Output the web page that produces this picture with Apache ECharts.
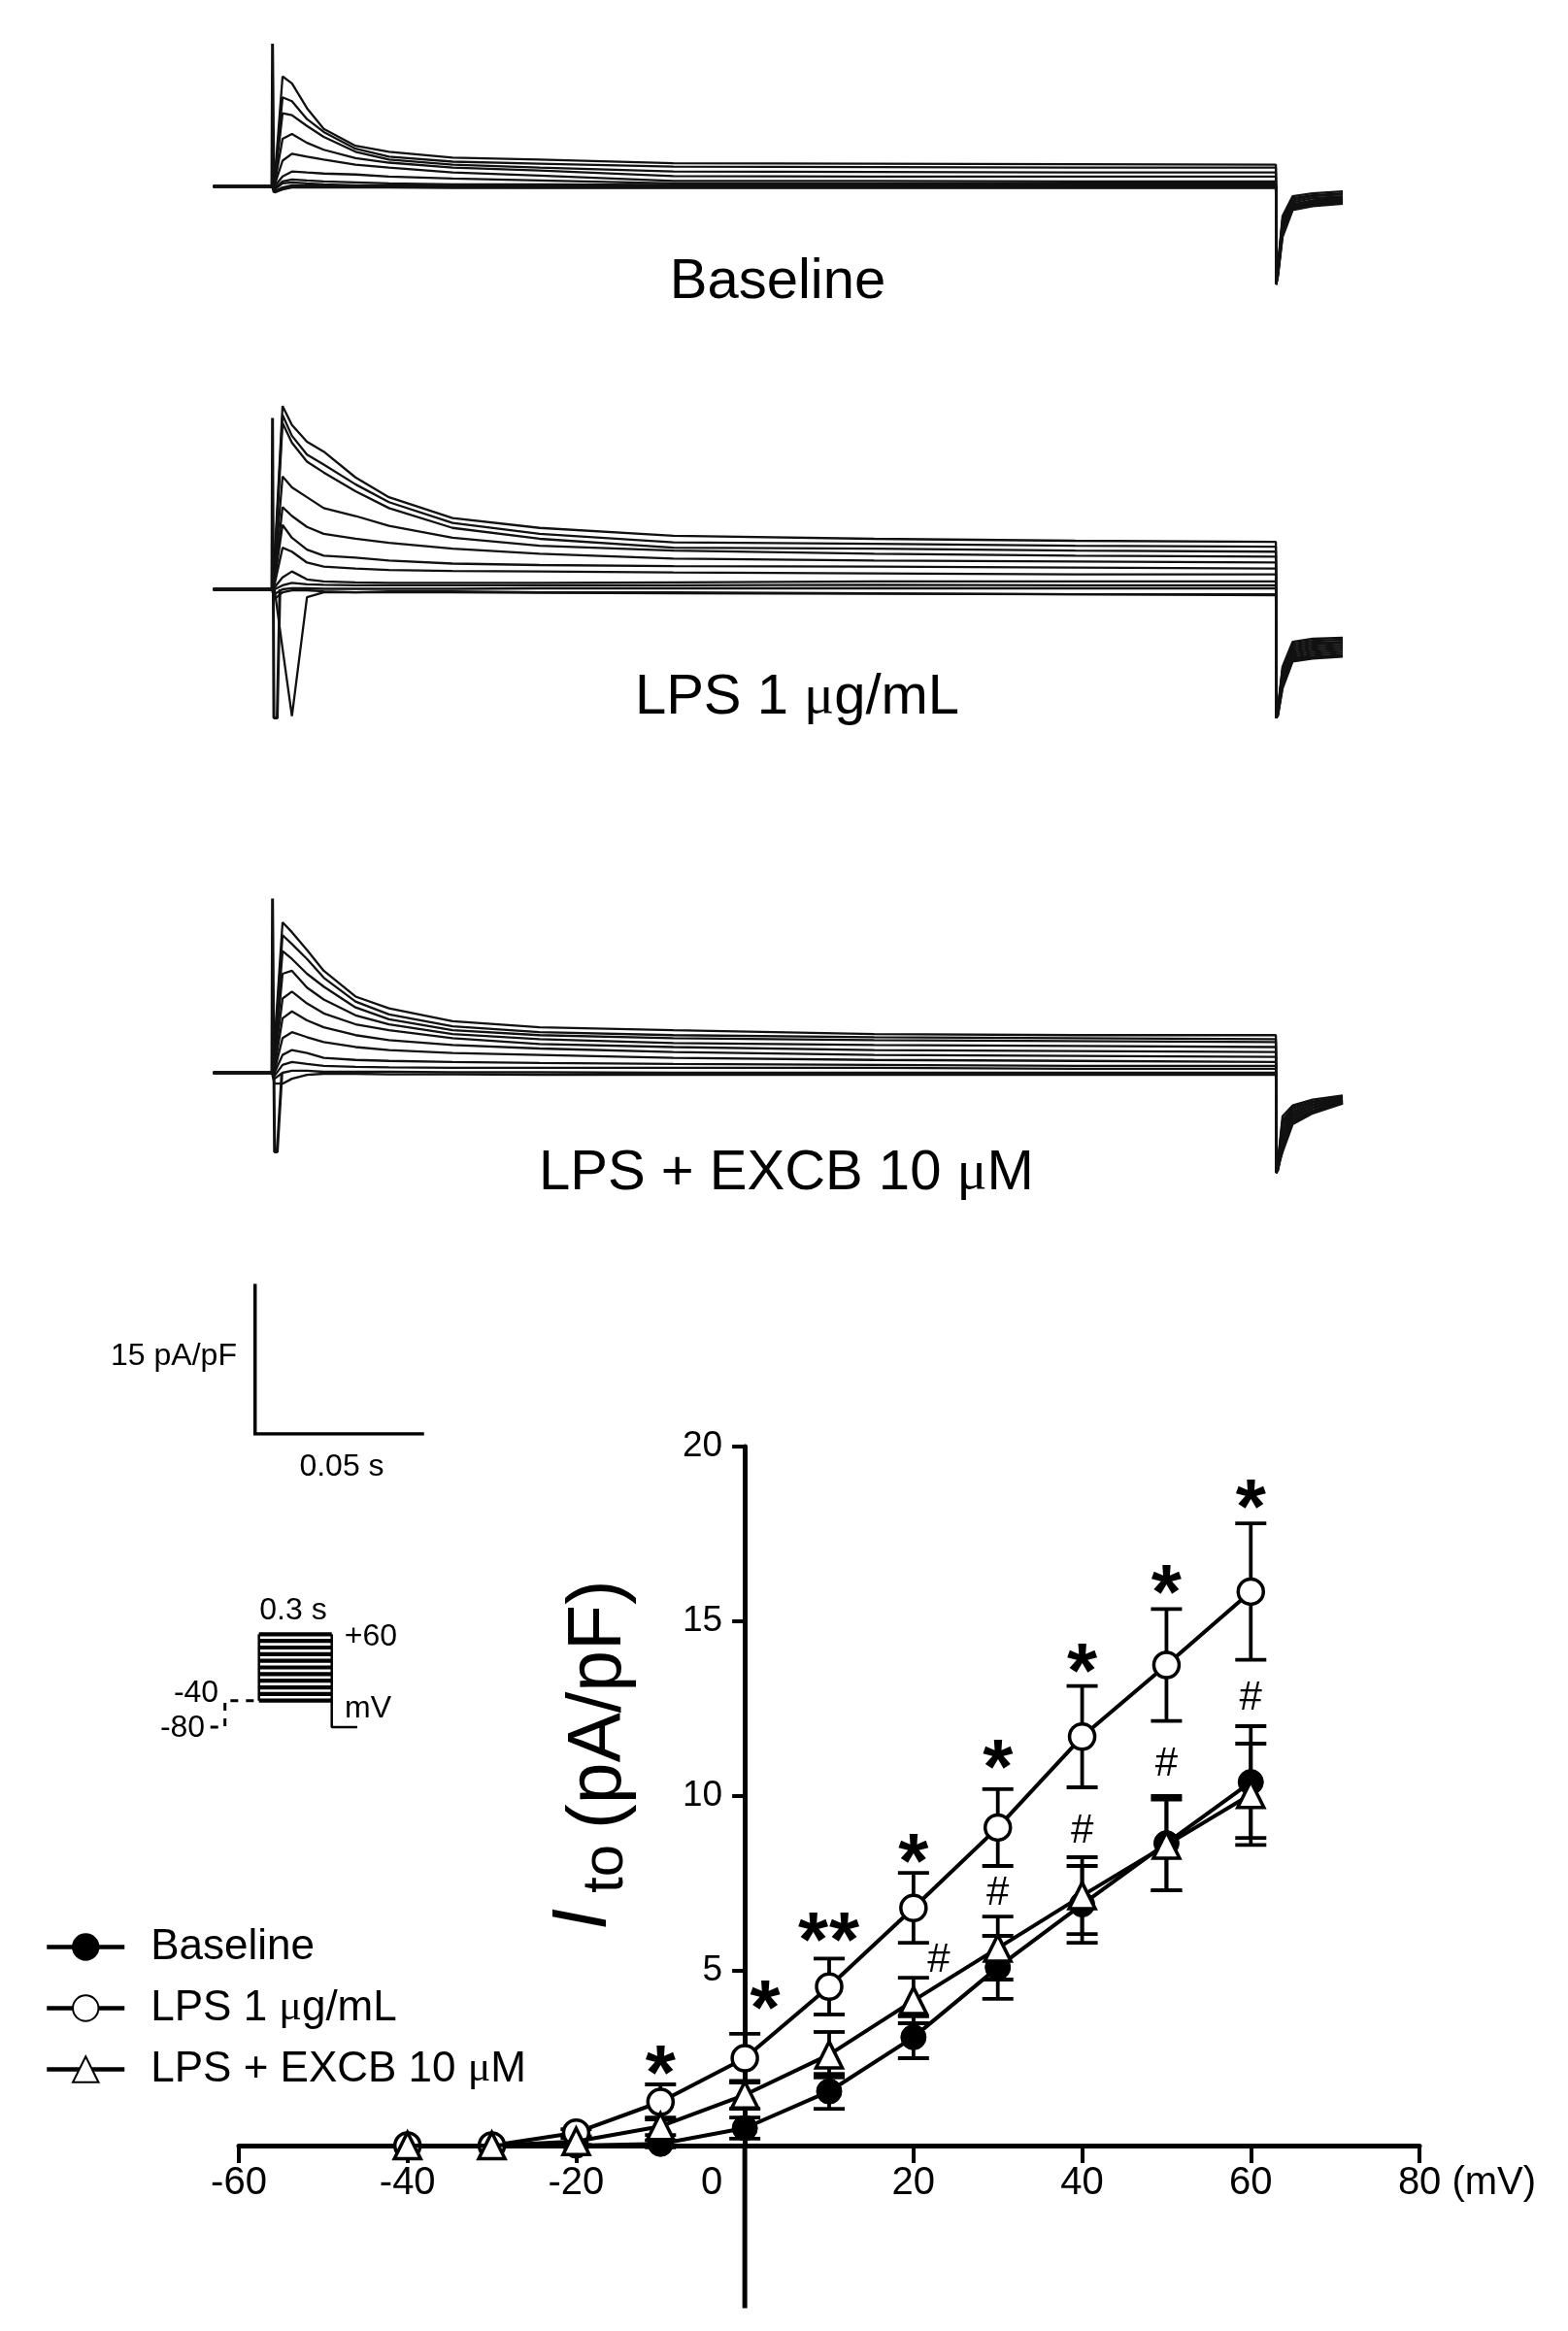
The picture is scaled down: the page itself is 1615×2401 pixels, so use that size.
<!DOCTYPE html>
<html>
<head>
<meta charset="utf-8">
<script src="https://cdn.jsdelivr.net/npm/echarts@6/dist/echarts.min.js"></script>
<style>
  html, body { margin: 0; padding: 0; background: #fff; }
  #chart { width: 1615px; height: 2401px; }
</style>
</head>
<body>
<div id="chart"></div>
<script>
  // ---- current traces (time in s, current in pA/pF) ----
  const stepTimes = [0.0008, 0.0032, 0.006, 0.0105, 0.0155, 0.025, 0.035, 0.054, 0.08, 0.12, 0.18, 0.24, 0.3];
  const tailTimes = [0.3001, 0.3006, 0.302, 0.305, 0.311, 0.32];

  const baselineSteps = [
    [0.5, 11.1, 10.4, 7.9, 5.8, 4.1, 3.5, 2.9, 2.7, 2.35, 2.3, 2.25, 2.2],
    [0.4, 9.0, 8.6, 6.8, 5.5, 3.8, 3.0, 2.5, 2.3, 2.0, 1.95, 1.9, 1.9],
    [0.3, 7.4, 7.2, 6.1, 5.0, 3.5, 2.7, 2.2, 1.9, 1.5, 1.45, 1.4, 1.4],
    [0.2, 4.8, 5.3, 4.4, 3.7, 2.85, 2.4, 1.9, 1.6, 1.05, 1.0, 1.0, 1.0],
    [0.1, 2.6, 3.3, 3.0, 2.7, 2.2, 1.9, 1.4, 1.1, 0.55, 0.55, 0.5, 0.5],
    [0, 1.0, 1.5, 1.4, 1.3, 1.2, 1.0, 0.8, 0.6, 0.3, 0.3, 0.3, 0.3],
    [-0.2, 0.5, 0.7, 0.6, 0.5, 0.4, 0.3, 0.2, 0.2, 0.15, 0.15, 0.1, 0.1],
    [-0.3, 0.3, 0.4, 0.3, 0.2, 0.1, 0.1, 0.05, 0.05, 0.05, 0, 0, 0],
    [-0.5, -0.1, 0.1, 0.1, 0.05, 0, 0, 0, 0, 0, 0, 0, 0],
    [-0.6, -0.2, 0, 0, 0, -0.05, -0.05, -0.05, -0.1, -0.1, -0.1, -0.1, -0.1],
    [-0.6, -0.3, -0.1, -0.1, -0.1, -0.1, -0.1, -0.15, -0.15, -0.15, -0.15, -0.15, -0.15]
  ];
  const baselineTails = [
    [-9.9, -8.0, -3.0, -1.0, -0.7, -0.5],
    [-9.9, -8.2, -3.3, -1.2, -0.9, -0.7],
    [-9.9, -8.3, -3.5, -1.4, -1.0, -0.8],
    [-9.9, -8.4, -3.7, -1.6, -1.2, -1.0],
    [-9.9, -8.5, -3.9, -1.8, -1.4, -1.1],
    [-9.9, -8.6, -4.1, -1.9, -1.5, -1.2],
    [-9.9, -8.7, -4.3, -2.0, -1.6, -1.3],
    [-9.9, -8.8, -4.5, -2.1, -1.7, -1.4],
    [-9.9, -8.9, -4.7, -2.2, -1.8, -1.5],
    [-9.9, -9.0, -4.9, -2.3, -1.9, -1.6],
    [-9.9, -9.1, -5.1, -2.4, -2.0, -1.75]
  ];
  const baselineSpike = [[0, 0], [0.0002, 14.4], [0.0006, -0.6], [0.0012, 0.3]];

  const lpsSteps = [
    [3, 18.5, 16.6, 14.9, 13.9, 11.3, 9.3, 7.2, 6.2, 5.4, 5.1, 4.9, 4.8],
    [2.5, 17.6, 15.5, 13.6, 12.6, 10.6, 8.8, 6.7, 5.6, 4.75, 4.6, 4.4, 4.3],
    [2, 16.8, 14.8, 12.9, 11.8, 9.9, 8.2, 6.2, 5.1, 4.2, 4.1, 3.9, 3.8],
    [1.5, 11.4, 10.3, 9.3, 8.2, 7.4, 6.4, 5.2, 4.4, 3.9, 3.6, 3.4, 3.3],
    [1, 8.3, 7.4, 6.3, 5.6, 5.1, 4.7, 4.1, 3.6, 3.1, 2.9, 2.8, 2.7],
    [0.8, 6.5, 5.2, 4.0, 3.4, 3.2, 2.9, 2.6, 2.45, 2.35, 2.3, 2.2, 2.1],
    [0.5, 4.2, 3.8, 2.7, 2.3, 2.1, 1.95, 1.85, 1.8, 1.7, 1.6, 1.5, 1.5],
    [0.2, 1.2, 1.8, 1.0, 0.8, 0.7, 0.65, 0.65, 0.65, 0.7, 0.8, 0.8, 0.8],
    [0, 0.4, 0.65, 0.5, 0.45, 0.4, 0.4, 0.4, 0.4, 0.4, 0.45, 0.4, 0.4],
    [-0.5, 0, 0.1, 0.1, 0.05, 0.05, 0.05, 0.05, 0.1, 0.1, 0.1, 0.1, 0.1],
    [-1, -0.3, -0.1, -0.1, -0.2, -0.3, -0.3, -0.3, -0.35, -0.4, -0.45, -0.5, -0.5],
    [0, -6, -12.8, -0.8, -0.3, -0.3, -0.2, -0.2, -0.3, -0.3, -0.4, -0.5, -0.6]
  ];
  const lpsTails = [
    [-13, -12.0, -7.8, -5.3, -5.0, -4.9],
    [-13, -12.1, -8.0, -5.5, -5.2, -5.1],
    [-13, -12.2, -8.2, -5.7, -5.4, -5.3],
    [-13, -12.3, -8.4, -5.9, -5.6, -5.4],
    [-13, -12.4, -8.6, -6.1, -5.8, -5.6],
    [-13, -12.4, -8.8, -6.3, -6.0, -5.8],
    [-13, -12.5, -9.0, -6.5, -6.2, -6.0],
    [-13, -12.5, -9.2, -6.7, -6.4, -6.2],
    [-13, -12.6, -9.4, -6.9, -6.6, -6.4],
    [-13, -12.6, -9.6, -7.0, -6.8, -6.6],
    [-13, -12.7, -9.8, -7.2, -6.9, -6.7],
    [-13, -12.8, -10.0, -7.3, -7.0, -6.8]
  ];
  const lpsSpike = [[0, 0], [0.0002, 17.3], [0.0006, -13], [0.0016, -13], [0.0024, 0]];

  const excbSteps = [
    [3, 15.2, 14.2, 12.4, 10.3, 7.7, 6.5, 5.2, 4.6, 4.3, 3.9, 3.8, 3.8],
    [2.5, 13.9, 13.0, 11.5, 9.6, 7.2, 5.9, 4.7, 4.1, 3.8, 3.6, 3.5, 3.4],
    [2, 12.3, 11.5, 10.0, 8.7, 6.6, 5.4, 4.3, 3.8, 3.5, 3.3, 3.2, 3.1],
    [1.5, 10.0, 10.3, 8.6, 7.4, 5.8, 4.9, 3.9, 3.4, 3.0, 2.8, 2.7, 2.6],
    [1, 7.5, 8.2, 7.0, 6.0, 4.9, 4.3, 3.5, 2.9, 2.6, 2.3, 2.2, 2.1],
    [0.5, 5.5, 6.2, 5.3, 4.6, 3.8, 3.3, 2.8, 2.45, 2.1, 1.8, 1.7, 1.6],
    [0.2, 3.5, 4.1, 3.6, 3.1, 2.6, 2.3, 2.0, 1.8, 1.5, 1.3, 1.2, 1.1],
    [0, 1.8, 2.3, 2.0, 1.5, 1.3, 1.2, 1.1, 1.0, 0.9, 0.8, 0.7, 0.7],
    [-0.3, 0.8, 1.1, 0.9, 0.7, 0.6, 0.55, 0.5, 0.5, 0.5, 0.5, 0.4, 0.4],
    [-0.6, 0, 0.2, 0.2, 0.1, 0.1, 0.1, 0.05, 0.05, 0, 0, 0, 0],
    [-1.1, -1.1, -0.6, -0.2, -0.1, -0.1, -0.15, -0.15, -0.2, -0.2, -0.2, -0.2, -0.2]
  ];
  const excbTails = [
    [-10.1, -9.0, -4.4, -3.3, -2.7, -2.3],
    [-10.1, -9.1, -4.8, -3.5, -2.9, -2.4],
    [-10.1, -9.2, -5.1, -3.7, -3.0, -2.5],
    [-10.1, -9.3, -5.4, -3.9, -3.2, -2.6],
    [-10.1, -9.4, -5.8, -4.1, -3.3, -2.7],
    [-10.1, -9.5, -6.2, -4.3, -3.5, -2.8],
    [-10.1, -9.6, -6.6, -4.5, -3.6, -2.8],
    [-10.1, -9.7, -7.0, -4.7, -3.8, -2.9],
    [-10.1, -9.8, -7.4, -4.9, -3.9, -3.0],
    [-10.1, -9.9, -7.7, -5.0, -4.0, -3.0],
    [-10.1, -10.1, -8.0, -5.2, -4.1, -3.1]
  ];
  const excbSpike = [[0, 0], [0.0002, 17.6], [0.0008, -8], [0.0016, -8], [0.003, 0]];

  // scale bar and voltage protocol
  const scaleBar = [[0, 15], [0, 0], [0.05, 0]];
  const protocolSteps = [-40, -30, -20, -10, 0, 10, 20, 30, 40, 50, 60];
  const holdingPath = [[-0.2, -80], [-0.14, -80], [-0.14, -40], [0, -40]];
  const returnPath = [[0.3, 60], [0.3, -80], [0.405, -80]];

  // ---- I-V relation ----
  const groupNames = ['Baseline', 'LPS 1 μg/mL', 'LPS + EXCB 10 μM'];
  const voltages = [-40, -30, -20, -10, 0, 10, 20, 30, 40, 50, 60];
  const ivBaseline = [0, 0, 0, 0.05, 0.5, 1.55, 3.1, 5.1, 6.9, 8.65, 10.4];
  const ivBaselineErr = [0, 0, 0, 0.1, 0.3, 0.5, 0.6, 0.9, 1.1, 1.35, 1.6];
  const ivLps = [0, 0, 0.37, 1.25, 2.5, 4.55, 6.8, 9.1, 11.7, 13.75, 15.85];
  const ivLpsErr = [0, 0, 0.1, 0.5, 0.7, 0.8, 1.0, 1.1, 1.45, 1.6, 1.95];
  const ivExcb = [0, 0, 0.12, 0.55, 1.45, 2.6, 4.15, 5.65, 7.15, 8.6, 10.05];
  const ivExcbErr = [0, 0, 0.1, 0.25, 0.4, 0.65, 0.65, 0.9, 1.1, 1.3, 1.45];
  const yAxisTail = [[0, 0], [0, -4.65]];

  const starX = [-10, 2.4, 8.1, 11.8, 20, 30, 40, 50, 60];
  const starY = [2.45, 4.3, 6.25, 6.25, 8.5, 11.2, 13.95, 16.2, 18.65];
  const hashX = [23, 30, 40, 50, 60];
  const hashY = [5.3, 7.2, 9.0, 10.9, 12.8];

  const FONT = "'Liberation Sans', Arial, sans-serif";
  const pxPerSec = 3447, pxPerUnit = 10.2, stepX = 280;
  const tMin = -0.018, tMax = 0.322;
  const panels = [
    {zero: 192, yMin: -14, yMax: 16},
    {zero: 607, yMin: -14, yMax: 20},
    {zero: 1105, yMin: -14, yMax: 18}
  ];
  const ivLeft = 246, ivWidth = 1216, ivTop = 1490, ivHeight = 720;

  function traceData(step, tail) {
    const pts = [[-0.0175, 0], [0, 0]];
    stepTimes.forEach((t, i) => pts.push([t, step[i]]));
    tailTimes.forEach((t, i) => pts.push([t, tail[i]]));
    return pts;
  }

  function simpleLine(idx, data, width, extra) {
    return Object.assign({
      type: 'line', xAxisIndex: idx, yAxisIndex: idx, data: data,
      symbol: 'none', silent: true, animation: false,
      lineStyle: {color: '#111', width: width}
    }, extra || {});
  }

  function panelSeries(idx, steps, tails, spike) {
    const out = steps.map((s, k) => simpleLine(idx, traceData(s, tails[k]), 2.3));
    out.push(simpleLine(idx, spike, 3));
    return out;
  }

  const grids = panels.map(p => ({
    left: stepX + tMin * pxPerSec, width: (tMax - tMin) * pxPerSec,
    top: p.zero - p.yMax * pxPerUnit, height: (p.yMax - p.yMin) * pxPerUnit
  }));
  grids.push({left: 262.7, top: 1324, width: 0.05 * pxPerSec, height: 15 * pxPerUnit});
  grids.push({left: 216.7, top: 1679.9, width: 155, height: 102.6});
  grids.push({left: ivLeft, top: ivTop, width: ivWidth, height: ivHeight});
  grids.forEach(g => { g.outerBoundsMode = 'none'; g.containLabel = false; });

  const hidden = {show: false};
  const xAxes = panels.map((p, i) => ({gridIndex: i, type: 'value', min: tMin, max: tMax, show: false}));
  const yAxes = panels.map((p, i) => ({gridIndex: i, type: 'value', min: p.yMin, max: p.yMax, show: false}));
  xAxes.push({gridIndex: 3, type: 'value', min: 0, max: 0.05, show: false});
  yAxes.push({gridIndex: 3, type: 'value', min: 0, max: 15, show: false});
  xAxes.push({gridIndex: 4, type: 'value', min: -0.2, max: 0.42, show: false});
  yAxes.push({gridIndex: 4, type: 'value', min: -85, max: 65, show: false});

  const axisLine = {onZero: false, lineStyle: {color: '#000', width: 5}};
  xAxes.push({
    gridIndex: 5, type: 'value', position: 'bottom', min: -60, max: 80, interval: 20,
    axisLine: axisLine,
    axisTick: {length: 18, lineStyle: {color: '#000', width: 4}},
    splitLine: hidden,
    axisLabel: {
      margin: 19, fontSize: 40, color: '#000', fontFamily: FONT,
      formatter: v => v === 0 ? '{z|0}' : (v === 80 ? '{a|80}{b| (mV)}' : String(v)),
      rich: {
        z: {fontSize: 40, fontFamily: FONT, color: '#000', padding: [0, 68, 0, 0]},
        a: {fontSize: 40, fontFamily: FONT, color: '#000', padding: [0, 0, 0, 98]},
        b: {fontSize: 40, fontFamily: FONT, color: '#000'}
      }
    }
  });
  // y axis sits on x = 0 mV: shift it from the grid's left edge
  yAxes.push({
    gridIndex: 5, type: 'value', position: 'left', min: 0, max: 20, interval: 5,
    offset: -(60 / 140) * ivWidth,
    axisLine: axisLine,
    axisTick: {length: 13, lineStyle: {color: '#000', width: 4}},
    axisLabel: {margin: 23, fontSize: 37, color: '#000', fontFamily: FONT,
      formatter: v => v === 0 ? '' : String(v)},
    splitLine: hidden
  });

  let series = [];
  series = series.concat(panelSeries(0, baselineSteps, baselineTails, baselineSpike));
  series = series.concat(panelSeries(1, lpsSteps, lpsTails, lpsSpike));
  series = series.concat(panelSeries(2, excbSteps, excbTails, excbSpike));
  series.push(simpleLine(3, scaleBar, 3.5, {lineStyle: {color: '#000', width: 3.5, cap: 'square', join: 'miter'}}));
  protocolSteps.forEach(v => series.push(simpleLine(4, [[0, v], [0.3, v]], 4.2, {lineStyle: {color: '#000', width: 4.2}})));
  series.push(simpleLine(4, [[0, -40], [0, 60]], 2.5, {lineStyle: {color: '#000', width: 2.5}}));
  series.push(simpleLine(4, returnPath, 2.5, {lineStyle: {color: '#000', width: 2.5}}));
  series.push(simpleLine(4, holdingPath, 3, {lineStyle: {color: '#000', width: 3, type: [8, 8]}}));
  series.push(simpleLine(5, yAxisTail, 5, {clip: false, z: 0, lineStyle: {color: '#000', width: 5}}));

  function errorBars(means, errs) {
    return voltages.map((v, i) => [v, means[i], errs[i]]).filter(d => d[2] > 0);
  }
  function renderErr(params, api) {
    const x = api.value(0), y = api.value(1), e = api.value(2);
    const top = api.coord([x, y + e]), bot = api.coord([x, y - e]);
    const hw = 16, st = {stroke: '#000', lineWidth: 3.8};
    return {type: 'group', children: [
      {type: 'line', shape: {x1: top[0], y1: top[1], x2: bot[0], y2: bot[1]}, style: st},
      {type: 'line', shape: {x1: top[0] - hw, y1: top[1], x2: top[0] + hw, y2: top[1]}, style: st},
      {type: 'line', shape: {x1: bot[0] - hw, y1: bot[1], x2: bot[0] + hw, y2: bot[1]}, style: st}
    ]};
  }
  [[ivBaseline, ivBaselineErr], [ivLps, ivLpsErr], [ivExcb, ivExcbErr]].forEach(pair => {
    series.push({type: 'custom', xAxisIndex: 5, yAxisIndex: 5, z: 1, clip: false, silent: true, animation: false,
      data: errorBars(pair[0], pair[1]), renderItem: renderErr});
  });

  const ivStyles = [
    {symbol: 'circle', symbolSize: 26, itemStyle: {color: '#000', borderColor: '#000', borderWidth: 1}},
    {symbol: 'circle', symbolSize: 26, itemStyle: {color: '#fff', borderColor: '#000', borderWidth: 3.5}},
    {symbol: 'triangle', symbolSize: 27, itemStyle: {color: '#fff', borderColor: '#000', borderWidth: 3.5}}
  ];
  [ivBaseline, ivLps, ivExcb].forEach((vals, k) => {
    series.push(Object.assign({
      name: groupNames[k], type: 'line', xAxisIndex: 5, yAxisIndex: 5, z: 2 + k * 0.1,
      animation: false, silent: true, showAllSymbol: true, clip: false,
      data: voltages.map((v, i) => [v, vals[i]]),
      lineStyle: {color: '#000', width: 4}
    }, ivStyles[k]));
  });

  function markSeries(xs, ys, text, font, dy) {
    return {
      type: 'custom', xAxisIndex: 5, yAxisIndex: 5, z: 5, silent: true, animation: false, clip: false,
      data: xs.map((x, i) => [x, ys[i]]),
      renderItem: (params, api) => {
        const p = api.coord([api.value(0), api.value(1)]);
        return {type: 'text', x: p[0], y: p[1] + dy,
          style: {text: text, font: font, fill: '#000', align: 'center', verticalAlign: 'middle'}};
      }
    };
  }
  series.push(markSeries(starX, starY, '*', "bold 80px 'Liberation Sans', Arial, sans-serif", 18));
  series.push(markSeries(hashX, hashY, '#', "42px 'Liberation Sans', Arial, sans-serif", 0));

  function txt(x, y, text, size, extra) {
    return Object.assign({
      type: 'text', x: x, y: y, silent: true,
      style: Object.assign({
        text: text, fontSize: size, fontFamily: FONT, fill: '#000', align: 'center', verticalAlign: 'middle',
        rich: {m: {fontSize: size, fontFamily: "'Liberation Serif', serif", fill: '#000'}}
      }, extra || {})
    });
  }
  const muText = s => s.replace('μ', '{m|μ}');

  const graphics = [
    txt(801, 291, muText(groupNames[0]), 58),
    txt(821, 719, muText(groupNames[1]), 58),
    txt(810, 1209, muText(groupNames[2]), 58),
    txt(179, 1397, '15 pA/pF', 32),
    txt(352, 1511, '0.05 s', 32),
    txt(302, 1659, '0.3 s', 32),
    txt(382, 1686, '+60', 32),
    txt(379, 1760, 'mV', 32),
    txt(202, 1744, '-40', 32),
    txt(188, 1780, '-80', 32),
    Object.assign(txt(602, 1988, 'I', 80, {align: 'left', fontStyle: 'italic'}), {rotation: Math.PI / 2}),
    Object.assign(txt(624, 1950, 'to', 60, {align: 'left'}), {rotation: Math.PI / 2}),
    Object.assign(txt(618, 1884, '(pA/pF)', 77, {align: 'left'}), {rotation: Math.PI / 2})
  ];

  const option = {
    backgroundColor: '#fff',
    animation: false,
    grid: grids,
    xAxis: xAxes,
    yAxis: yAxes,
    legend: {
      data: groupNames, orient: 'vertical', left: 41, top: 1978.5,
      itemWidth: 80, itemHeight: 33, itemGap: 19, selectedMode: false,
      lineStyle: {width: 4.5, color: '#000'},
      formatter: name => muText(name),
      textStyle: {
        fontSize: 44, color: '#000', fontFamily: FONT, padding: [0, 0, 0, 22],
        rich: {m: {fontSize: 44, fontFamily: "'Liberation Serif', serif", color: '#000'}}
      }
    },
    graphic: {elements: graphics},
    series: series
  };

  const chart = echarts.init(document.getElementById('chart'));
  chart.setOption(option);
</script>
</body>
</html>
